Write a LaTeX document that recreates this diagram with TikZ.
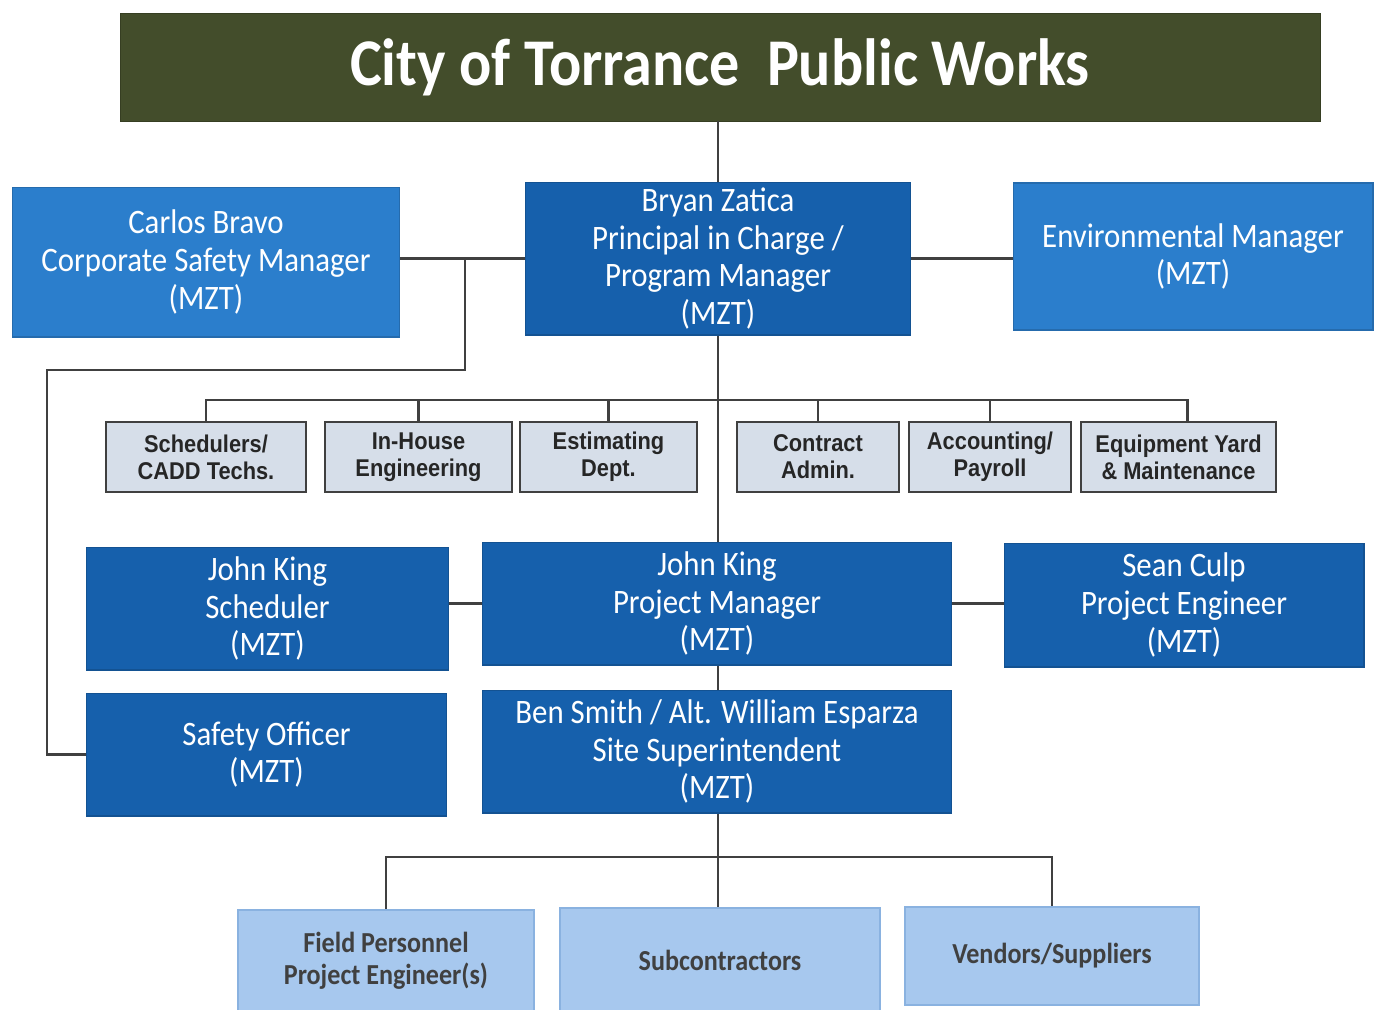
\documentclass[tikz,border=0pt]{standalone}
\usepackage{fontspec}
\setmainfont{Carlito}[FakeStretch=0.9]
\newfontfamily\deptfont{Liberation Sans}[FakeStretch=0.9]
\usepackage{tikz}
\usetikzlibrary{calc}
\definecolor{titlegreen}{HTML}{434D2B}
\definecolor{darkblue}{HTML}{1660AC}
\definecolor{lightblue}{HTML}{2B7ECC}
\definecolor{deptfill}{HTML}{D6DEE9}
\definecolor{fieldfill}{HTML}{A7C8EE}
\definecolor{fieldline}{HTML}{8AB2E0}
\definecolor{linkgray}{HTML}{404040}
\tikzset{
	titlebox/.style={fill=titlegreen, draw=titlegreen!80!black, text=white, font=\fontsize{38}{40}\selectfont\bfseries, minimum width=24cm, minimum height=2.16cm},
	mainbox/.style={fill=darkblue, draw=darkblue!85!black, line width=0.6pt, text=white, align=center, font=\fontsize{19.5}{21.4}\selectfont, minimum height=2.46cm},
	sidebox/.style={mainbox, fill=lightblue, draw=lightblue!85!black},
	deptbox/.style={fill=deptfill, draw=black!75, line width=1.2pt, text=black!85, align=center, font=\deptfont\fontsize{13.8}{15.3}\selectfont\bfseries, minimum height=1.4cm},
	fieldbox/.style={fill=fieldfill, draw=fieldline, line width=1pt, text=black!75, align=center, font=\fontsize{16.5}{18.2}\selectfont\bfseries, minimum height=2.04cm},
	link/.style={draw=linkgray, line width=1.2pt}
}

\begin{document}
\begin{tikzpicture}[x=0.02cm, y=-0.02cm]
		%%%%% START %%%%%
		\useasboundingbox (0, 0) rectangle (1381, 1009);
		
		\node[titlebox] (title) at (720, 67) {City of Torrance\hspace{0.2em} Public Works};
		
		\node[sidebox, minimum width=7.76cm, minimum height=3cm] (carlos) at (206, 262) {Carlos Bravo\\Corporate Safety Manager\\(MZT)};
		\node[mainbox, minimum width=7.7cm, minimum height=2.98cm] (bryan) at (718, 258.5) {Bryan Zatica\\Principal in Charge /\\Program Manager\\(MZT)};
		\node[sidebox, minimum width=7.2cm, minimum height=2.94cm] (env) at (1193, 256.5) {Environmental Manager\\(MZT)};
		
		\node[deptbox, minimum width=4cm] (sched) at (206, 457) {Schedulers/\\CADD Techs.};
		\node[deptbox, minimum width=3.74cm] (inhouse) at (418.5, 457) {In-House\\Engineering};
		\node[deptbox, minimum width=3.54cm] (estim) at (608.5, 457) {Estimating\\Dept.};
		\node[deptbox, minimum width=3.24cm] (contract) at (818, 457) {Contract\\Admin.};
		\node[deptbox, minimum width=3.24cm] (acct) at (990, 457) {Accounting/\\Payroll};
		\node[deptbox, minimum width=3.9cm] (equip) at (1178.5, 457) {Equipment Yard\\\& Maintenance};
		
		\node[mainbox, minimum width=7.26cm] (jksched) at (267.5, 608.5) {John King\\Scheduler\\(MZT)};
		\node[mainbox, minimum width=9.38cm] (jkpm) at (717, 603.5) {John King\\Project Manager\\(MZT)};
		\node[mainbox, minimum width=7.2cm, minimum height=2.48cm] (sean) at (1184, 605) {Sean Culp\\Project Engineer\\(MZT)};
		\node[mainbox, minimum width=7.22cm] (safety) at (266.5, 754.5) {Safety Officer\\(MZT)};
		\node[mainbox, minimum width=9.38cm] (ben) at (717, 751.5) {Ben Smith / Alt. William Esparza\\Site Superintendent\\(MZT)};
		
		\node[fieldbox, minimum width=5.92cm] (field) at (386, 961) {Field Personnel\\Project Engineer(s)};
		\node[fieldbox, minimum width=6.4cm, minimum height=2.08cm] (subs) at (720, 960) {Subcontractors};
		\node[fieldbox, minimum width=5.88cm, minimum height=1.96cm] (vendors) at (1052, 956) {Vendors/Suppliers};
		
		% connectors
		\coordinate (bus) at (718, 400);
		\coordinate (lowbus) at (718, 857);
		\coordinate (cj) at ($(carlos.east |- bryan.west)!0.52!(bryan.west)$);
		\coordinate (bend) at (47, 370);
		
		\draw[link] (bryan.north) -- (bryan.north |- title.south);
		\draw[link] (bryan.south) -- (bryan.south |- jkpm.north);
		\draw[link] (bryan.south |- jkpm.south) -- (bryan.south |- ben.north);
		\draw[link] (bryan.south |- ben.south) -- (bryan.south |- subs.north);
		
		\draw[link] (carlos.east |- bryan.west) -- (bryan.west);
		\draw[link] (bryan.east) -- (bryan.east -| env.west);
		\draw[link] (jkpm.west -| jksched.east) -- (jkpm.west);
		\draw[link] (jkpm.east) -- (jkpm.east -| sean.west);
		\draw[link] (cj) |- (bend) |- (safety.west);
		
		\draw[link] (sched.north) -- (sched.north |- bus) -| ([xshift=0.18cm]equip.north);
		\foreach \d in {inhouse, estim, contract, acct}
			\draw[link] (\d.north) -- (\d.north |- bus);
		
		\draw[link] (field.north) -- (field.north |- lowbus) -| (vendors.north);
		%%%%% END %%%%%
	\end{tikzpicture}
\end{document}
